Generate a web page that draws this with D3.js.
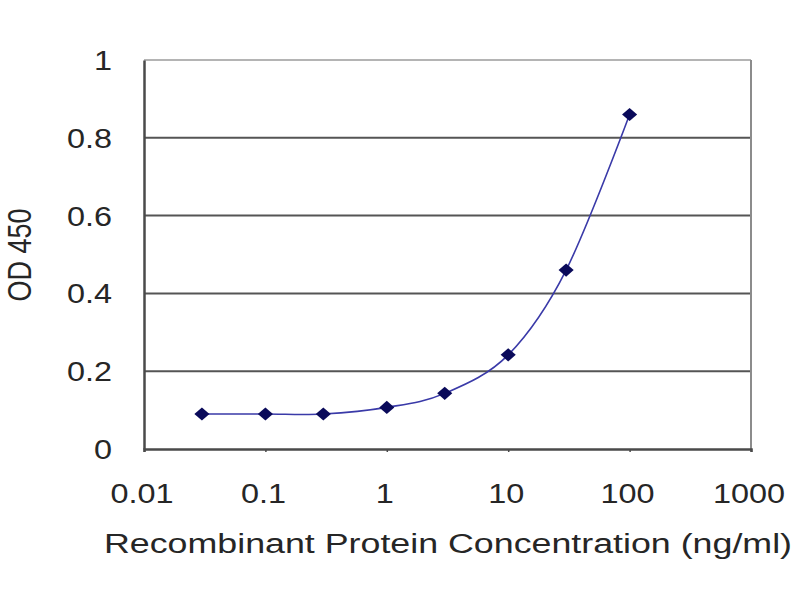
<!DOCTYPE html>
<html>
<head>
<meta charset="utf-8">
<script src="https://cdn.jsdelivr.net/npm/d3@7"></script>
<style>
  html, body { margin: 0; padding: 0; background: #fff; }
  text { font-family: "Liberation Sans", Arial, sans-serif; fill: #262626; }
</style>
</head>
<body>
<svg id="chart" width="800" height="600"></svg>
<script>
// ---- data ----
const concentrations = [0.03, 0.1, 0.3, 1, 3, 10, 30, 100];
const od450 = [0.090, 0.090, 0.090, 0.107, 0.143, 0.242, 0.460, 0.860];
const xTickValues = [0.01, 0.1, 1, 10, 100, 1000];
const xTickLabels = ["0.01", "0.1", "1", "10", "100", "1000"];
const yTickValues = [0, 0.2, 0.4, 0.6, 0.8, 1];
const yTickLabels = ["0", "0.2", "0.4", "0.6", "0.8", "1"];
const xTitle = "Recombinant Protein Concentration (ng/ml)";
const yTitle = "OD 450";

const points = concentrations.map((c, i) => ({ x: c, y: od450[i] }));

const svg = d3.select("#chart");
const plotLeft = 144, plotRight = 751, plotTop = 60, plotBottom = 449;
const sx = 1.2; // horizontal stretch of the reference's text

const x = d3.scaleLog().domain([0.01, 1000]).range([plotLeft, plotRight]);
const y = d3.scaleLinear().domain([0, 1]).range([plotBottom, plotTop]);

// gridlines
svg.append("g").selectAll("line")
  .data(yTickValues.filter(v => v > 0 && v < 1))
  .join("line")
  .attr("x1", plotLeft).attr("x2", plotRight)
  .attr("y1", d => y(d)).attr("y2", d => y(d))
  .attr("stroke", "#555").attr("stroke-width", 2);

// top and right border
svg.append("line").attr("x1", plotLeft).attr("x2", plotRight).attr("y1", y(1)).attr("y2", y(1))
  .attr("stroke", "#b4b4b4").attr("stroke-width", 2);
svg.append("line").attr("x1", plotRight).attr("x2", plotRight).attr("y1", y(1)).attr("y2", y(0))
  .attr("stroke", "#8c8c8c").attr("stroke-width", 2);

// x axis
const xAxis = d3.axisBottom(x).tickValues(xTickValues).tickSize(3).tickFormat("");
const gx = svg.append("g").attr("transform", `translate(0,${plotBottom})`).call(xAxis);
gx.select(".domain").attr("stroke", "#4a4a4a").attr("stroke-width", 2.5);
gx.selectAll(".tick line").attr("stroke", "#4a4a4a").attr("stroke-width", 1.5);

// y axis
const yAxis = d3.axisLeft(y).tickValues(yTickValues).tickSize(0).tickFormat("");
const gy = svg.append("g").attr("transform", `translate(${plotLeft},0)`).call(yAxis);
gy.select(".domain").attr("stroke", "#4a4a4a").attr("stroke-width", 2.5);

// x tick labels
svg.append("g").selectAll("g")
  .data(xTickValues)
  .join("g")
  .attr("transform", d => `translate(${x(d) - 2},503) scale(${sx},1)`)
  .append("text")
  .attr("text-anchor", "middle")
  .attr("font-size", 27)
  .text((d, i) => xTickLabels[i]);

// y tick labels
svg.append("g").selectAll("g")
  .data(yTickValues)
  .join("g")
  .attr("transform", d => `translate(112,${y(d) + 10}) scale(${sx},1)`)
  .append("text")
  .attr("text-anchor", "end")
  .attr("font-size", 27)
  .text((d, i) => yTickLabels[i]);

// axis titles
svg.append("text")
  .attr("x", 104).attr("y", 553)
  .attr("font-size", 27)
  .attr("textLength", 688)
  .attr("lengthAdjust", "spacingAndGlyphs")
  .text(xTitle);

svg.append("g")
  .attr("transform", `translate(31,255) rotate(-90) scale(1,${sx})`)
  .append("text")
  .attr("text-anchor", "middle")
  .attr("font-size", 27)
  .text(yTitle);

// smoothed line
const line = d3.line()
  .x(d => x(d.x)).y(d => y(d.y))
  .curve(d3.curveCatmullRom.alpha(0));
svg.append("path")
  .datum(points)
  .attr("d", line)
  .attr("fill", "none")
  .attr("stroke", "#3a3aa8")
  .attr("stroke-width", 1.6);

// diamond markers
const diamond = d3.symbol().type(d3.symbolDiamond2).size(110);
svg.append("g").selectAll("path")
  .data(points)
  .join("path")
  .attr("d", diamond)
  .attr("transform", d => `translate(${x(d.x)},${y(d.y)}) scale(1.15,1)`)
  .attr("fill", "#0a0a5a");
</script>
</body>
</html>
